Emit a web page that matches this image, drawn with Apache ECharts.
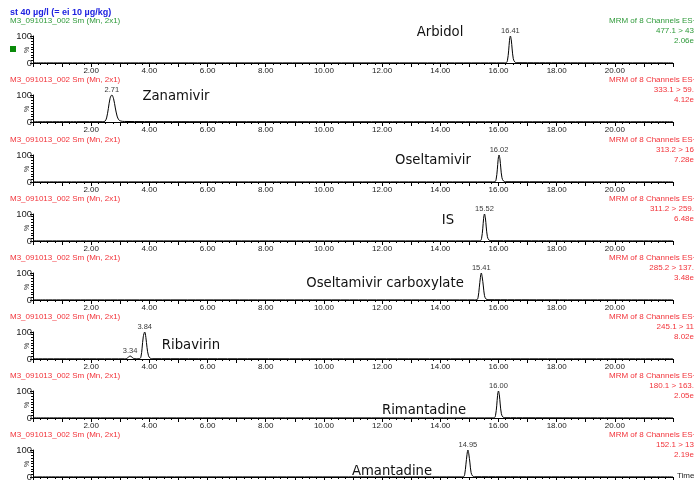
<!DOCTYPE html>
<html><head><meta charset="utf-8">
<script src="https://cdn.jsdelivr.net/npm/echarts@6/dist/echarts.min.js"></script>
<style>html,body{margin:0;padding:0;background:#fff}#c{width:694px;height:480px}</style>
</head><body><div id="c"></div>
<script>
// ---- data ----
const compounds = ["Arbidol","Zanamivir","Oseltamivir","IS","Oseltamivir carboxylate","Ribavirin","Rimantadine","Amantadine"];
const transitions = ["477.1 > 43","333.1 > 59.","313.2 > 16","311.2 > 259.","285.2 > 137.","245.1 > 11","180.1 > 163.","152.1 > 13"];
const intensities = ["2.06e","4.12e","7.28e","6.48e","3.48e","8.02e","2.05e","2.19e"];
const xTickLabels = ["2.00","4.00","6.00","8.00","10.00","12.00","14.00","16.00","18.00","20.00"];

const arbidolTrace = [[0,0.4],[16.2,0.4],[16.27,1],[16.31,10],[16.35,45],[16.38,84],[16.41,100],[16.44,86],[16.47,52],[16.51,16],[16.56,4],[16.63,1],[22,0.4]];
const zanamivirTrace = [[0,0.8],[1.5,1],[2.4,1],[2.47,2.5],[2.53,15],[2.59,50],[2.65,88],[2.71,100],[2.77,86],[2.83,52],[2.89,22],[2.95,8],[3.02,3.5],[3.15,2],[4.5,1.2],[22,0.8]];
const oseltamivirTrace = [[0,0.4],[15.8,0.4],[15.88,1],[15.92,10],[15.96,45],[15.99,84],[16.02,100],[16.05,86],[16.08,52],[16.12,16],[16.17,4],[16.24,1],[22,0.4]];
const isTrace = [[0,0.4],[15.3,0.4],[15.38,1],[15.42,10],[15.46,45],[15.49,84],[15.52,100],[15.55,86],[15.58,52],[15.62,16],[15.67,4],[15.74,1],[22,0.4]];
const carboxylateTrace = [[0,0.4],[15.18,0.4],[15.26,1],[15.3,10],[15.34,45],[15.38,84],[15.41,100],[15.44,86],[15.48,52],[15.52,16],[15.57,4],[15.64,1],[22,0.4]];
const ribavirinTrace = [[0,0.6],[3.15,0.6],[3.22,2],[3.28,7],[3.34,11],[3.4,7],[3.46,2],[3.55,0.8],[3.66,1],[3.71,8],[3.75,40],[3.79,82],[3.84,100],[3.88,80],[3.92,42],[3.97,12],[4.03,3],[4.12,1],[22,0.6]];
const rimantadineTrace = [[0,0.4],[15.78,0.4],[15.86,1],[15.9,10],[15.94,45],[15.97,84],[16.0,100],[16.03,86],[16.06,52],[16.1,16],[16.15,4],[16.22,1],[22,0.4]];
const amantadineTrace = [[0,0.4],[14.72,0.4],[14.8,1],[14.84,10],[14.88,45],[14.92,84],[14.95,100],[14.98,86],[15.02,52],[15.06,16],[15.11,4],[15.18,1],[22,0.4]];
const traces = [arbidolTrace,zanamivirTrace,oseltamivirTrace,isTrace,carboxylateTrace,ribavirinTrace,rimantadineTrace,amantadineTrace];

const peakLabels = [[[16.41,100]],[[2.71,100]],[[16.02,100]],[[15.52,100]],[[15.41,100]],[[3.34,11],[3.84,100]],[[16.00,100]],[[14.95,100]]];

// ---- layout ----
const baselines = [63,122,182,241,300,359,418,477];
const panelH = 27;
const gridLeft = 33, gridRight = 21;
const namePos = [[440,32],[176,96],[433,160],[448,220],[385,283],[191,345],[424,410],[392,471]];
const RED = '#f2333a', GREEN = '#2f9a3a', BLUE = '#1e22e0';
const FONT = 'Liberation Sans, Arial, sans-serif';
const NARROW = '"Liberation Sans Narrow", "DejaVu Sans Condensed", sans-serif';

const grids=[], xAxes=[], yAxes=[], series=[], graphics=[];
traces.forEach((tr,i)=>{
  const b = baselines[i];
  grids.push({left:gridLeft, right:gridRight, top:b-panelH, height:panelH, containLabel:false, outerBoundsMode:'none'});
  xAxes.push({type:'value', gridIndex:i, min:0, max:22, interval:1,
    axisLine:{show:true,lineStyle:{color:'#000',width:1}},
    axisTick:{show:true,length:4,lineStyle:{color:'#000'}},
    minorTick:{show:true,splitNumber:4,length:2,lineStyle:{color:'#000'}},
    splitLine:{show:false}, minorSplitLine:{show:false},
    axisLabel:{fontSize:8,fontFamily:FONT,color:'#222',margin:4,
      formatter:v=>{const s=(+v).toFixed(2);return xTickLabels.indexOf(s)>=0?s:'';}}
  });
  yAxes.push({type:'value', gridIndex:i, min:0, max:100, interval:100,
    axisLine:{show:true,lineStyle:{color:'#000',width:1}},
    axisTick:{show:true,length:3,lineStyle:{color:'#000'}},
    minorTick:{show:true,splitNumber:10,length:2,lineStyle:{color:'#000'}},
    splitLine:{show:false}, minorSplitLine:{show:false},
    axisLabel:{fontSize:9.5,fontFamily:FONT,color:'#222',margin:1}
  });
  series.push({type:'line', xAxisIndex:i, yAxisIndex:i, data:tr, showSymbol:false, smooth:0.35,
    lineStyle:{color:'#000',width:1}, silent:true, animation:false, clip:true});
  series.push({type:'scatter', xAxisIndex:i, yAxisIndex:i, data:peakLabels[i], symbolSize:0, silent:true, animation:false,
    label:{show:true, position:'top', distance:1, fontSize:7.5, fontFamily:FONT, color:'#000',
      formatter:p=>p.value[0].toFixed(2)}});
  const col = i===0?GREEN:RED;
  graphics.push({type:'text', left:10, top:b-46, style:{text:'M3_091013_002 Sm (Mn, 2x1)', fontSize:8, fontFamily:FONT, fill:col}});
  graphics.push({type:'text', left:609, top:b-46, style:{text:'MRM of 8 Channels ES+', fontSize:8, fontFamily:FONT, fill:col}});
  graphics.push({type:'text', right:0, top:b-36, style:{text:transitions[i], fontSize:8, fontFamily:FONT, fill:col}});
  graphics.push({type:'text', right:0, top:b-26, style:{text:intensities[i], fontSize:8, fontFamily:FONT, fill:col}});
  graphics.push({type:'text', x:27, y:b-13, rotation:Math.PI/2, style:{text:'%', fontSize:7, fontFamily:FONT, fill:'#333', align:'center', verticalAlign:'middle'}});
  graphics.push({type:'text', x:namePos[i][0], y:namePos[i][1], style:{text:compounds[i], fontSize:14.7, fontFamily:NARROW, fill:'#111', align:'center', verticalAlign:'middle'}});
});
graphics.push({type:'text', left:10, top:8, style:{text:'st 40 µg/l (= ei 10 µg/kg)', fontSize:9, fontWeight:'bold', fontFamily:FONT, fill:BLUE}});
graphics.push({type:'rect', shape:{x:10,y:46,width:6,height:6}, style:{fill:'#0a8a0a'}});
graphics.push({type:'text', left:677, top:472, style:{text:'Time', fontSize:8, fontFamily:FONT, fill:'#222'}});

const chart = echarts.init(document.getElementById('c'), null, {renderer:'canvas'});
chart.setOption({animation:false, backgroundColor:'#fff', grid:grids, xAxis:xAxes, yAxis:yAxes, series:series, graphic:graphics});
</script></body></html>
